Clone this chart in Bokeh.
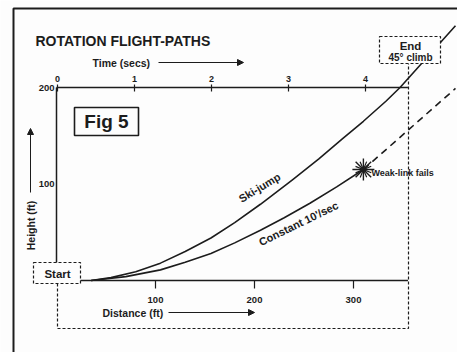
import math
from bokeh.plotting import figure
from bokeh.models import Range1d, Arrow, NormalHead
from bokeh.core.properties import value
from bokeh.embed import file_html
from bokeh.resources import INLINE

# ---------------- data ----------------
title_text = "ROTATION FLIGHT-PATHS"
fig_label = "Fig 5"
distance_ticks = [100, 200, 300]          # ft
height_ticks = [100, 200]                 # ft
time_ticks = [0, 1, 2, 3, 4]              # secs
distance_max = 355                        # ft, right end of the axes
height_max = 200                          # ft, top of the axes

ski_jump_distance = [35, 55, 80, 105, 130, 156, 180, 206, 238, 265, 289, 310, 333, 347, 403]
ski_jump_height = [0, 3, 9, 18, 30, 44, 60, 79, 104, 126, 147, 165, 186, 200, 264]

constant_distance = [35, 70, 105, 130, 156, 180, 206, 230, 256, 283, 310]
constant_height = [0, 4, 11, 19, 28, 39, 52, 65, 80, 97, 115]

continued_distance = [310, 403]           # dashed path after the weak-link
continued_height = [115, 199]

weak_link_distance = [310]
weak_link_height = [115]

# ---------------- layout ----------------
W, H = 457, 352
PX_PER_FT_X = 0.99
PX_PER_FT_Y = 0.965
X0_PX, Y0_PX = 56, 280          # pixel position of distance 0 / height 0
T0_PX, PX_PER_SEC = 57, 77      # top time axis
INK = "#1c1c1c"
PAPER = "#fdfdfd"
FONT = value("Liberation Sans")

p = figure(width=W, height=H, output_backend="svg", toolbar_location=None,
           x_range=Range1d(-X0_PX / PX_PER_FT_X, (W - X0_PX) / PX_PER_FT_X),
           y_range=Range1d((Y0_PX - H) / PX_PER_FT_Y, Y0_PX / PX_PER_FT_Y),
           x_axis_type=None, y_axis_type=None, min_border=0)
p.extra_x_ranges = {"px": Range1d(0, W),
                    "time": Range1d(-T0_PX / PX_PER_SEC, (W - T0_PX) / PX_PER_SEC)}
p.extra_y_ranges = {"px": Range1d(H, 0)}
p.grid.visible = False
p.outline_line_color = None
p.background_fill_color = PAPER
p.border_fill_color = PAPER

PX = dict(x_range_name="px", y_range_name="px")

def txt(x, y, s, size, align="center", angle=0.0, style="bold", **kw):
    p.text(x=[x], y=[y], text=[s], text_font=FONT, text_font_size=size,
           text_font_style=style, text_align=align, text_baseline="middle",
           text_color=INK, angle=angle, **kw)

# outer frame (left + top border of the scanned page)
p.line(x=[13, 13, W], y=[H, 8, 8], line_color=INK, line_width=2, **PX)

# title
txt(35, 40, title_text, "14px", align="left", **PX)

# time axis label and arrow
txt(92, 62, "Time (secs)", "10.5px", align="left", **PX)
p.add_layout(Arrow(x_start=158, y_start=62, x_end=243, y_end=62, line_color=INK,
                   line_width=1, end=NormalHead(size=6, fill_color=INK, line_color=INK),
                   **PX))

# dashed construction lines
p.line(x=[57, 57, 408, 408], y=[283, 328, 328, 63], line_color=INK,
       line_width=1.2, line_dash="3 2", **PX)

# axes (solid)
p.line(x=[0, 0], y=[0, height_max], line_color=INK, line_width=1.5)
p.line(x=[0, distance_max], y=[height_max, height_max], line_color=INK, line_width=1.5)
p.line(x=[0, distance_max], y=[0, 0], line_color=INK, line_width=1.5)

# time ticks on top axis
p.segment(x0=time_ticks, x1=time_ticks, y0=[84] * len(time_ticks), y1=[91] * len(time_ticks),
          line_color=INK, line_width=1.2, x_range_name="time", y_range_name="px")
p.text(x=time_ticks, y=[78] * len(time_ticks), text=[str(t) for t in time_ticks],
       text_font=FONT, text_font_size="9px", text_font_style="bold",
       text_align="center", text_baseline="middle", text_color=INK,
       x_range_name="time", y_range_name="px")

# distance ticks on bottom axis
p.segment(x0=distance_ticks, x1=distance_ticks, y0=[280] * 3, y1=[288] * 3,
          line_color=INK, line_width=1.2, y_range_name="px")
p.text(x=distance_ticks, y=[299] * 3, text=[str(d) for d in distance_ticks],
       text_font=FONT, text_font_size="9.5px", text_font_style="bold",
       text_align="center", text_baseline="middle", text_color=INK, y_range_name="px")

# height tick labels
p.text(x=[54] * len(height_ticks), y=height_ticks, text=[str(h) for h in height_ticks],
       text_font=FONT, text_font_size="9.5px", text_font_style="bold",
       text_align="right", text_baseline="middle", text_color=INK, x_range_name="px")

# distance axis label and arrow
txt(102, 312, "Distance (ft)", "10.5px", align="left", **PX)
p.add_layout(Arrow(x_start=168, y_start=312, x_end=254, y_end=312, line_color=INK,
                   line_width=1, end=NormalHead(size=6, fill_color=INK, line_color=INK),
                   **PX))

# height axis label and arrow
txt(30, 225, "Height (ft)", "10.5px", angle=math.pi / 2, **PX)
p.add_layout(Arrow(x_start=30, y_start=192, x_end=30, y_end=128, line_color=INK,
                   line_width=1, end=NormalHead(size=6, fill_color=INK, line_color=INK),
                   **PX))

# flight paths
p.line(ski_jump_distance, ski_jump_height, line_color=INK, line_width=1.6,
       line_join="round")
p.line(constant_distance, constant_height, line_color=INK, line_width=1.6,
       line_join="round")
p.line(continued_distance, continued_height, line_color=INK, line_width=1.6,
       line_dash="7 5")

# weak-link burst
p.scatter(weak_link_distance, weak_link_height, marker="asterisk", size=22,
          line_color=INK, line_width=1.4)
p.scatter(weak_link_distance, weak_link_height, marker="asterisk", size=17, angle=0.4,
          line_color=INK, line_width=1.2)
txt(371, 172, "Weak-link fails", "9px", align="left", **PX)

# curve labels
txt(259, 187, "Ski-jump", "11px", angle=math.radians(31), **PX)
txt(298, 223, "Constant 10'/sec", "11px", angle=math.radians(26), **PX)

# boxes
p.quad(left=[74], right=[138], top=[107], bottom=[135], fill_color=PAPER,
       line_color=INK, line_width=1.6, **PX)
txt(106, 121, fig_label, "19px", **PX)

p.quad(left=[33], right=[80], top=[262], bottom=[283], fill_color=PAPER,
       line_color=INK, line_width=1.2, line_dash="3 2", **PX)
txt(57, 273, "Start", "11.5px", **PX)

p.quad(left=[379], right=[440], top=[36], bottom=[63], fill_color=PAPER,
       line_color=INK, line_width=1.2, line_dash="3 2", **PX)
txt(410, 45, "End", "11.5px", **PX)
txt(410, 57, "45° climb", "10px", **PX)

open("out.html", "w").write(file_html(p, INLINE))
